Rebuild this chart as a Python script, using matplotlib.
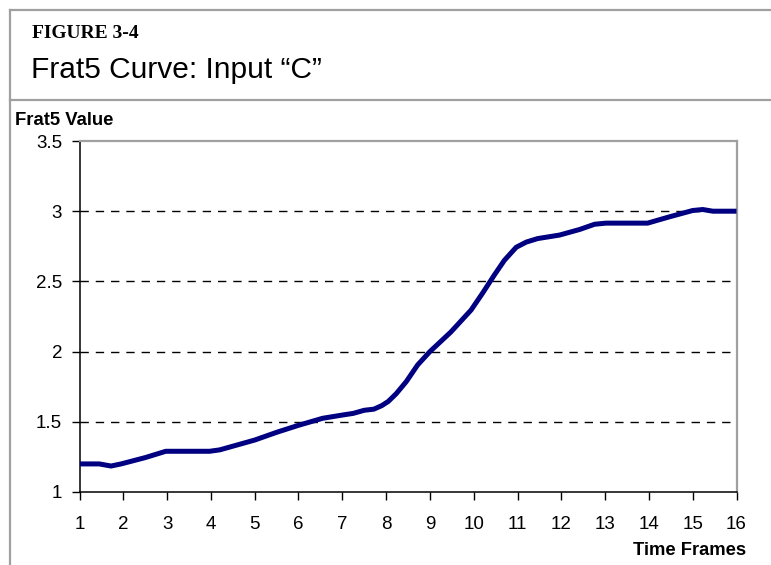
import matplotlib
matplotlib.use("Agg")
import matplotlib.pyplot as plt
from matplotlib.lines import Line2D

# Frat5 curve samples (time frame, Frat5 value)
time_frames = [1.0, 1.45, 1.72, 1.95, 2.5, 2.97, 3.5, 3.97, 4.2, 4.6, 5.0,
               5.5, 6.0, 6.55, 7.0, 7.25, 7.5, 7.72, 7.9, 8.05, 8.23, 8.46,
               8.72, 9.0, 9.48, 9.94, 10.2, 10.47, 10.7, 10.97, 11.2, 11.46,
               11.96, 12.42, 12.76, 13.02, 13.97, 14.47, 15.0, 15.23, 15.46,
               16.0]
frat5_values = [1.20, 1.20, 1.185, 1.20, 1.245, 1.29, 1.29, 1.29, 1.30, 1.335,
                1.37, 1.425, 1.475, 1.525, 1.548, 1.56, 1.582, 1.59, 1.615,
                1.645, 1.70, 1.786, 1.905, 2.0, 2.14, 2.296, 2.415, 2.545,
                2.65, 2.743, 2.78, 2.805, 2.83, 2.87, 2.907, 2.915, 2.915,
                2.96, 3.005, 3.012, 3.0, 3.0]

x_ticks = list(range(1, 17))
y_ticks = [1, 1.5, 2, 2.5, 3, 3.5]
y_tick_labels = ["1", "1.5", "2", "2.5", "3", "3.5"]

W, H = 771, 565
fig = plt.figure(figsize=(W / 100, H / 100), dpi=100)

def fx(px):
    return px / W

def fy(py):
    return 1 - py / H

frame_color = "#a0a0a0"
# outer frame: top rule, left rule, and separator under the heading
fig.add_artist(Line2D([fx(9.5), 1.0], [fy(9.5), fy(9.5)], color=frame_color, lw=1.6))
fig.add_artist(Line2D([fx(9.5), fx(9.5)], [fy(9.5), 0.0], color=frame_color, lw=1.6))
fig.add_artist(Line2D([fx(9.5), 1.0], [fy(99.5), fy(99.5)], color=frame_color, lw=1.6))

fig.text(fx(32), fy(38), "FIGURE 3-4", family="Liberation Serif", weight="bold",
         fontsize=14, va="baseline", ha="left")
fig.text(fx(31), fy(78), "Frat5 Curve: Input \u201cC\u201d", family="Liberation Sans",
         fontsize=21.5, va="baseline", ha="left")
fig.text(fx(15), fy(125), "Frat5 Value", family="Liberation Sans", weight="bold",
         fontsize=13.3, va="baseline", ha="left")

left, right, top, bottom = 79.5, 736.5, 141, 492
ax = fig.add_axes([fx(left), fy(bottom), (right - left) / W, (bottom - top) / H])
ax.plot(time_frames, frat5_values, color="#000080", lw=3.6, solid_joinstyle="round",
        solid_capstyle="butt", zorder=3)
ax.set_xlim(1, 16)
ax.set_ylim(1, 3.5)
ax.set_xticks(x_ticks)
ax.set_xticklabels([str(t) for t in x_ticks])
ax.set_yticks(y_ticks)
ax.set_yticklabels(y_tick_labels)

for v in [1.5, 2, 2.5, 3]:
    ax.axhline(v, color="black", lw=1.0, dashes=(6, 5), zorder=1)

for side in ["left", "bottom"]:
    ax.spines[side].set_color("black")
    ax.spines[side].set_linewidth(1.1)
for side in ["top", "right"]:
    ax.spines[side].set_color(frame_color)
    ax.spines[side].set_linewidth(1.6)

ax.tick_params(axis="both", direction="out", length=6, width=1.0, color="black",
               labelsize=13.5)
ax.tick_params(axis="x", pad=11.5)
ax.tick_params(axis="y", pad=6.5)
for lab in ax.get_xticklabels() + ax.get_yticklabels():
    lab.set_family("Liberation Sans")

fig.text(fx(746.5), fy(555), "Time Frames", family="Liberation Sans", weight="bold",
         fontsize=13.2, va="baseline", ha="right")

fig.savefig("out.png", dpi=100)
